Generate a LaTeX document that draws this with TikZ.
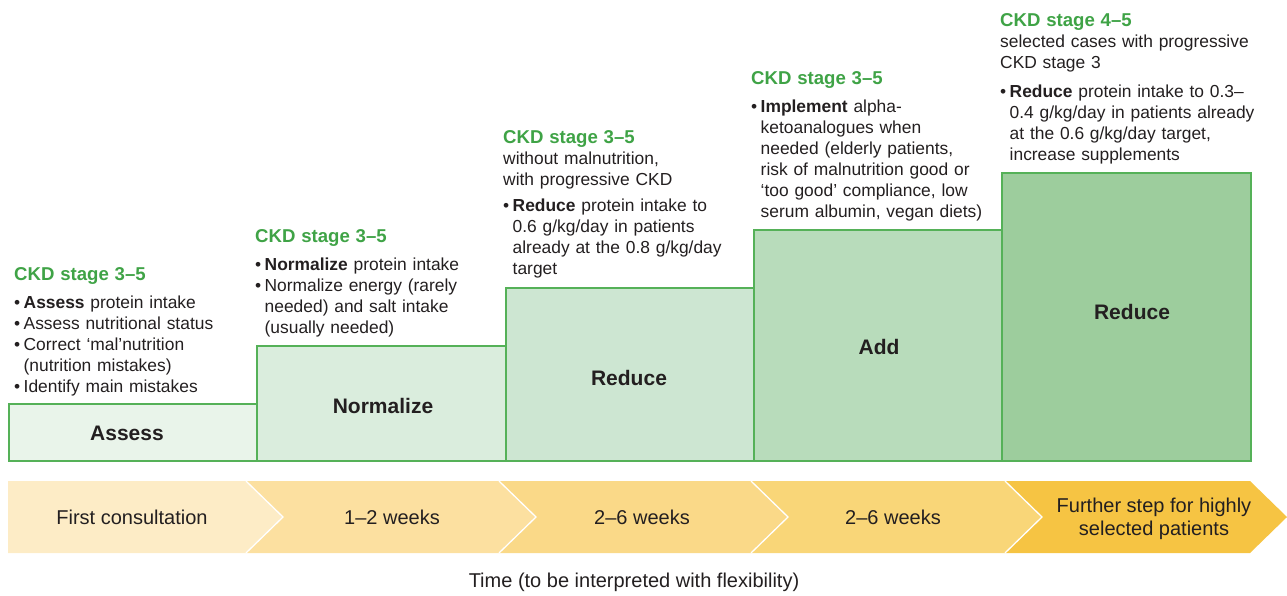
\documentclass[tikz,border=0pt]{standalone}
\usepackage{fontspec}
\setmainfont{Liberation Sans}
\definecolor{ink}{HTML}{231F20}
\definecolor{headgreen}{HTML}{3FA346}
\definecolor{edgegreen}{HTML}{55B158}
\definecolor{stepA}{HTML}{E9F4EA}
\definecolor{stepB}{HTML}{DAEDDD}
\definecolor{stepC}{HTML}{CDE6D2}
\definecolor{stepD}{HTML}{B8DCBB}
\definecolor{stepE}{HTML}{9DCD9D}
\definecolor{timeA}{HTML}{FDECC6}
\definecolor{timeB}{HTML}{FCE0A0}
\definecolor{timeC}{HTML}{FAD988}
\definecolor{timeD}{HTML}{F9D678}
\definecolor{timeE}{HTML}{F6C443}
% bullet and hanging indent for the step notes
\newcommand\bitem{\makebox[9.5pt][l]{•}}
\newcommand\bcont{\hspace*{9.5pt}}
\newcommand\stagehead[1]{{\fontsize{18.6}{21}\selectfont\color{headgreen}\bfseries #1}}
\begin{document}
\begin{tikzpicture}[x=1pt,y=-1pt,
  stepbox/.style={draw=edgegreen, line width=1.2pt},
  notes/.style={anchor=base west, inner sep=0pt, text width=290pt, align=left,
    text=ink, font=\fontsize{17.4}{21}\selectfont},
  steplabel/.style={inner sep=0pt, text=ink, font=\fontsize{21}{24}\selectfont\bfseries},
  timelabel/.style={inner sep=0pt, text=ink, align=center, font=\fontsize{20}{23}\selectfont},
  sep/.style={draw=white, line width=1.3pt}]
\useasboundingbox (0,0) rectangle (1287,595);

% staircase of steps
\draw[stepbox, fill=stepA] (9,404) rectangle (257,461);
\draw[stepbox, fill=stepB] (257,346) rectangle (506,461);
\draw[stepbox, fill=stepC] (506,288) rectangle (754,461);
\draw[stepbox, fill=stepD] (754,230) rectangle (1002,461);
\draw[stepbox, fill=stepE] (1002,173) rectangle (1251,461);

\node[steplabel] (assess) at (127,433) {Assess};
\node[steplabel] (normalize) at (383,406) {Normalize};
\node[steplabel] (reduceA) at (629,378) {Reduce};
\node[steplabel] (add) at (879,347) {Add};
\node[steplabel] (reduceB) at (1132,312) {Reduce};

% notes above each step
\node[notes] (noteA) at (14,280) {\stagehead{CKD stage 3–5}\\[7pt]
\bitem\textbf{Assess} protein intake\\
\bitem Assess nutritional status\\
\bitem Correct ‘mal’nutrition\\
\bcont(nutrition mistakes)\\
\bitem Identify main mistakes};

\node[notes] (noteB) at (255,242) {\stagehead{CKD stage 3–5}\\[7pt]
\bitem\textbf{Normalize} protein intake\\
\bitem Normalize energy (rarely\\
\bcont needed) and salt intake\\
\bcont(usually needed)};

\node[notes] (noteC) at (503,143) {\stagehead{CKD stage 3–5}\\
without malnutrition,\\
with progressive CKD\\[5pt]
\bitem\textbf{Reduce} protein intake to\\
\bcont 0.6 g/kg/day in patients\\
\bcont already at the 0.8 g/kg/day\\
\bcont target};

\node[notes] (noteD) at (751,84) {\stagehead{CKD stage 3–5}\\[7pt]
\bitem\textbf{Implement} alpha-\\
\bcont ketoanalogues when\\
\bcont needed (elderly patients,\\
\bcont risk of malnutrition good or\\
\bcont ‘too good’ compliance, low\\
\bcont serum albumin, vegan diets)};

\node[notes] (noteE) at (1000,26) {\stagehead{CKD stage 4–5}\\
selected cases with progressive\\
CKD stage 3\\[8pt]
\bitem\textbf{Reduce} protein intake to 0.3–\\
\bcont 0.4 g/kg/day in patients already\\
\bcont at the 0.6 g/kg/day target,\\
\bcont increase supplements};

% time line of chevrons
\fill[timeA] (8,481) -- (246,481) -- (283,517) -- (246,553) -- (8,553) -- cycle;
\fill[timeB] (246,481) -- (499,481) -- (536,517) -- (499,553) -- (246,553) -- (283,517) -- cycle;
\fill[timeC] (499,481) -- (751,481) -- (788,517) -- (751,553) -- (499,553) -- (536,517) -- cycle;
\fill[timeD] (751,481) -- (1005,481) -- (1042,517) -- (1005,553) -- (751,553) -- (788,517) -- cycle;
\fill[timeE] (1005,481) -- (1250,481) -- (1287,517) -- (1250,553) -- (1005,553) -- (1042,517) -- cycle;
\draw[sep] (246,481) -- (283,517) -- (246,553);
\draw[sep] (499,481) -- (536,517) -- (499,553);
\draw[sep] (751,481) -- (788,517) -- (751,553);
\draw[sep] (1005,481) -- (1042,517) -- (1005,553);

\node[timelabel] (t1) at (132,517) {First consultation};
\node[timelabel] (t2) at (392,517) {1–2 weeks};
\node[timelabel] (t3) at (642,517) {2–6 weeks};
\node[timelabel] (t4) at (893,517) {2–6 weeks};
\node[timelabel] (t5) at (1154,519) {Further step for highly\\selected patients};

\node[timelabel, anchor=base] (axis) at (634,587) {Time (to be interpreted with flexibility)};
\end{tikzpicture}
\end{document}
